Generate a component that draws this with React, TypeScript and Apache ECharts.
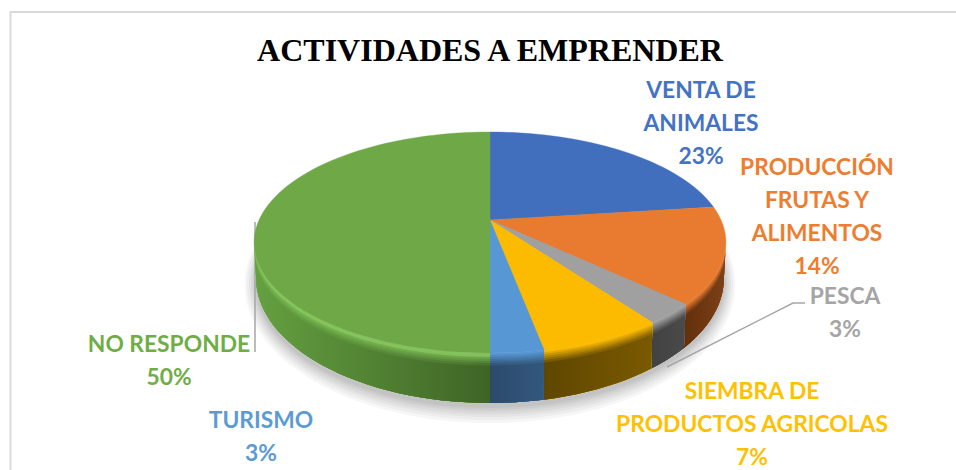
import React, { useEffect, useRef } from "react";
import * as echarts from "echarts";

const categories = ["VENTA DE ANIMALES", "PRODUCCIÓN FRUTAS Y ALIMENTOS", "PESCA", "SIEMBRA DE PRODUCTOS AGRICOLAS", "TURISMO", "NO RESPONDE"];
const values = [23, 14, 3, 7, 3, 50];
const labelLines = [
  ["VENTA DE", "ANIMALES", "23%"],
  ["PRODUCCIÓN", "FRUTAS Y", "ALIMENTOS", "14%"],
  ["PESCA", "3%"],
  ["SIEMBRA DE", "PRODUCTOS AGRICOLAS", "7%"],
  ["TURISMO", "3%"],
  ["NO RESPONDE", "50%"],
];
const labelCentres = [[701, 89], [817, 166], [845, 295], [752, 390], [261, 419], [169, 343]];
const labelColours = ["#4472c4", "#ed7d31", "#a5a5a5", "#ffc000", "#5b9bd5", "#70ad47"];
const topColours = ["#416fbd", "#e97b30", "#a0a0a0", "#fdbb00", "#5797d3", "#6fa947"];
const wallLeft = ["#27436f", "#7d4117", "#4a4a4a", "#7a5a00", "#33587d", "#64a040"];
const wallRight = ["#27436f", "#63300d", "#424242", "#5f4700", "#2c4a6c", "#3f6426"];

const CX = 490;
const TOP = { ay: 220, a: 105.9, b: 231 };
const BOTTOM = { ay: 252.6, a: 119.8, b: 229 };
const K = 0.2035;
const rad = (p: number) => (p / 100) * Math.PI * 2;
const project = (pct: number, f: { ay: number; a: number; b: number }) => {
  const u = Math.sin(rad(pct));
  const v = Math.cos(rad(pct));
  const d = 1 + K * v;
  return [CX + (f.b * u) / d, f.ay - (f.a * v) / d];
};
const tangent = (Math.acos(-K) / (Math.PI * 2)) * 100;
const mix = (c1: string, c2: string, t: number) => {
  const p = (c: string) => [1, 3, 5].map((i) => parseInt(c.slice(i, i + 2), 16));
  const a = p(c1), b = p(c2);
  return "rgb(" + a.map((x, i) => Math.round(x + (b[i] - x) * t)).join(",") + ")";
};
const arcPoints = (p0: number, p1: number, f: { ay: number; a: number; b: number }) => {
  const out: number[][] = [];
  const n = Math.max(2, Math.ceil((p1 - p0) * 1.5));
  for (let i = 0; i <= n; i++) out.push(project(p0 + ((p1 - p0) * i) / n, f));
  return out;
};
const level = (f: number) => ({
  ay: TOP.ay + (BOTTOM.ay - TOP.ay) * f,
  a: TOP.a + (BOTTOM.a - TOP.a) * f,
  b: TOP.b + (BOTTOM.b - TOP.b) * f,
});

const ranges: number[][] = [];
values.reduce((acc, v) => {
  ranges.push([acc, acc + v]);
  return acc + v;
}, 0);

const STEPS = [0, 0.04, 0.08, 0.12, 0.16, 0.2, 0.25];
const SHADOW_GROWTH = [16, 13, 10, 7.5, 5, 3, 1];

function renderSlice(params: any, api: any) {
  const i = params.dataIndex;
  const p0 = api.value(0);
  const p1 = api.value(1);
  const children: any[] = [];
  const g0 = Math.max(p0, tangent);
  const g1 = Math.min(p1, 100 - tangent);
  const isGreen = i === 5;
  if (g1 > g0) {
    STEPS.forEach((s, j) => {
      const t = j / (STEPS.length - 1);
      const from = isGreen ? (j === 1 ? "#8fd064" : "#82c45a") : topColours[i];
      const fill = new echarts.graphic.LinearGradient(
        isGreen ? 255 : project(g0, TOP)[0], 0, isGreen ? 490 : project(g1, TOP)[0], 0,
        [
          { offset: 0, color: mix(from, wallLeft[i], t) },
          { offset: 1, color: mix(from, wallRight[i], t) },
        ],
        true
      );
      const upper = arcPoints(g0, g1, level(s));
      const lower = arcPoints(g0, g1, BOTTOM).reverse();
      children.push({ type: "polygon", shape: { points: upper.concat(lower) }, style: { fill } });
    });
  }
  const face = [[CX, TOP.ay], ...arcPoints(p0, p1, TOP)];
  children.push({ type: "polygon", shape: { points: face }, style: { fill: topColours[i], stroke: topColours[i], lineWidth: 0.4 } });
  return { type: "group", children };
}

export default function App() {
  const ref = useRef<HTMLDivElement>(null);
  useEffect(() => {
    document.body.style.margin = "0";
    const chart = echarts.init(ref.current!, null, { renderer: "svg" });
    const shadows = SHADOW_GROWTH.map((g) => ({
      type: "polygon",
      z: 0,
      shape: { points: arcPoints(0, 100, { ay: BOTTOM.ay + 4, a: BOTTOM.a + g * 0.8, b: BOTTOM.b + g * 0.7 }) },
      style: { fill: "rgba(0,0,0,0.035)" },
    }));
    const labels = labelLines.flatMap((lines, i) =>
      lines.map((line, j) => ({
        type: "text",
        z: 5,
        x: labelCentres[i][0],
        y: labelCentres[i][1] + j * 33,
        style: {
          text: line,
          fill: labelColours[i],
          font: "bold 22.8px Lato",
          align: "center",
          verticalAlign: "middle",
        },
      }))
    );
    chart.setOption({
      animation: false,
      backgroundColor: "#ffffff",
      title: {
        text: "ACTIVIDADES A EMPRENDER",
        left: 485,
        top: 29,
        textAlign: "center",
        textStyle: { fontFamily: "Liberation Serif", fontWeight: "bold", fontSize: 32, color: "#000000" },
      },
      graphic: [
        { type: "polyline", z: 0, shape: { points: [[10.5, 470], [10.5, 12], [956, 12]] }, style: { stroke: "#d9d9d9", lineWidth: 2, fill: "none" } },
        ...shadows,
        { type: "polyline", z: 0, shape: { points: [[255, 222], [255, 352]] }, style: { stroke: "#a6a6a6", lineWidth: 1.5, fill: "none" } },
        { type: "polyline", z: 5, shape: { points: [[667, 367], [793, 303], [805, 303]] }, style: { stroke: "#a6a6a6", lineWidth: 1.5, fill: "none" } },
        ...labels,
      ],
      series: [
        {
          type: "custom",
          coordinateSystem: "none",
          renderItem: renderSlice,
          z: 2,
          data: categories.map((name, i) => ({ name, value: ranges[i] })),
          encode: { value: [0, 1] },
        },
      ],
    });
    return () => chart.dispose();
  }, []);
  return <div ref={ref} style={{ width: 956, height: 470 }} />;
}
